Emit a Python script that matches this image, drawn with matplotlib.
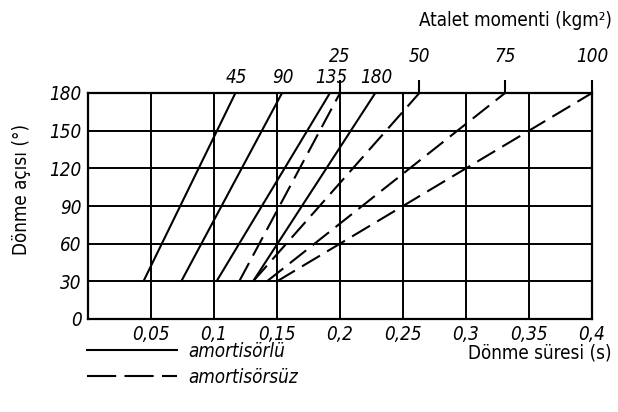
import matplotlib
matplotlib.use("Agg")
import matplotlib.pyplot as plt
from matplotlib.lines import Line2D

plt.rcParams['font.family'] = ['DejaVu Sans']
plt.rcParams['font.stretch'] = 'condensed'

# Dönme açısı aralığı (°)
angles = [30, 180]

# amortisörlü (düz çizgiler) - etiket, 30° ve 180° deki dönme süresi
damped_labels = ['45', '90', '135', '180']
damped_start = [0.044, 0.074, 0.102, 0.131]
damped_end = [0.117, 0.154, 0.192, 0.228]

# amortisörsüz (kesikli çizgiler) - atalet momenti etiketleri
undamped_labels = ['25', '50', '75', '100']
undamped_start = [0.120, 0.131, 0.142, 0.150]
undamped_end = [0.200, 0.263, 0.331, 0.400]

x_ticks = [0.05, 0.1, 0.15, 0.2, 0.25, 0.3, 0.35, 0.4]
x_ticklabels = ['0,05', '0,1', '0,15', '0,2', '0,25', '0,3', '0,35', '0,4']
y_ticks = [0, 30, 60, 90, 120, 150, 180]

W, H = 618, 412
fig = plt.figure(figsize=(W / 100, H / 100), dpi=100)
ax = fig.add_axes([88 / W, 1 - 319 / H, (592 - 88) / W, (319 - 93) / H])

ax.set_xlim(0, 0.4)
ax.set_ylim(0, 180)

dash = (10, 4)
for s, e in zip(damped_start, damped_end):
    ax.plot([s, e], angles, color='black', lw=1.5, solid_capstyle='butt')
for s, e in zip(undamped_start, undamped_end):
    ax.plot([s, e], angles, color='black', lw=1.5, linestyle=(0, dash), dash_capstyle='butt')

fs = 13.5

# labels at the top of the solid lines
for lab, e in zip(damped_labels, damped_end):
    ax.annotate(lab, (e, 180), xytext=(1, 11), textcoords='offset points',
                ha='center', va='center', fontsize=fs, style='italic',
                annotation_clip=False)

ax.set_xticks(x_ticks)
ax.set_xticklabels(x_ticklabels, fontsize=fs, style='italic')
ax.set_yticks(y_ticks)
ax.set_yticklabels([str(v) for v in y_ticks], fontsize=fs, style='italic')
ax.tick_params(axis='both', length=0)
ax.tick_params(axis='x', pad=4)
ax.tick_params(axis='y', pad=4.5)
ax.grid(True, color='black', lw=1.4)
for sp in ax.spines.values():
    sp.set_linewidth(1.6)

# top axis: atalet momenti
secax = ax.secondary_xaxis('top')
secax.set_xticks(undamped_end)
secax.set_xticklabels(undamped_labels, fontsize=fs, style='italic')
secax.tick_params(axis='x', direction='out', length=9.5, width=1.5, pad=10)
secax.spines['top'].set_visible(False)

ax.set_ylabel('Dönme açısı (°)', fontsize=fs)
ax.yaxis.set_label_coords(-0.113, 0.571)
ax.set_xlabel('Dönme süresi (s)', fontsize=fs, ha='right', va='center')
ax.xaxis.set_label_coords((612 - 88) / 504, (319 - 353) / 226)

fig.text(612 / W, 1 - 20 / H, 'Atalet momenti (kgm²)', fontsize=fs,
         ha='right', va='center')

handles = [Line2D([], [], color='black', lw=1.5),
           Line2D([], [], color='black', lw=1.5, linestyle=(0, (14, 4)))]
leg = fig.legend(handles, ['amortisörlü', 'amortisörsüz'], loc='upper left',
                 bbox_to_anchor=(87 / W, 1 - 342 / H), frameon=False,
                 prop={'size': fs, 'style': 'italic'}, handlelength=4.8,
                 handletextpad=0.6, labelspacing=0.35, borderpad=0,
                 borderaxespad=0)

fig.savefig('out.png', dpi=100)
